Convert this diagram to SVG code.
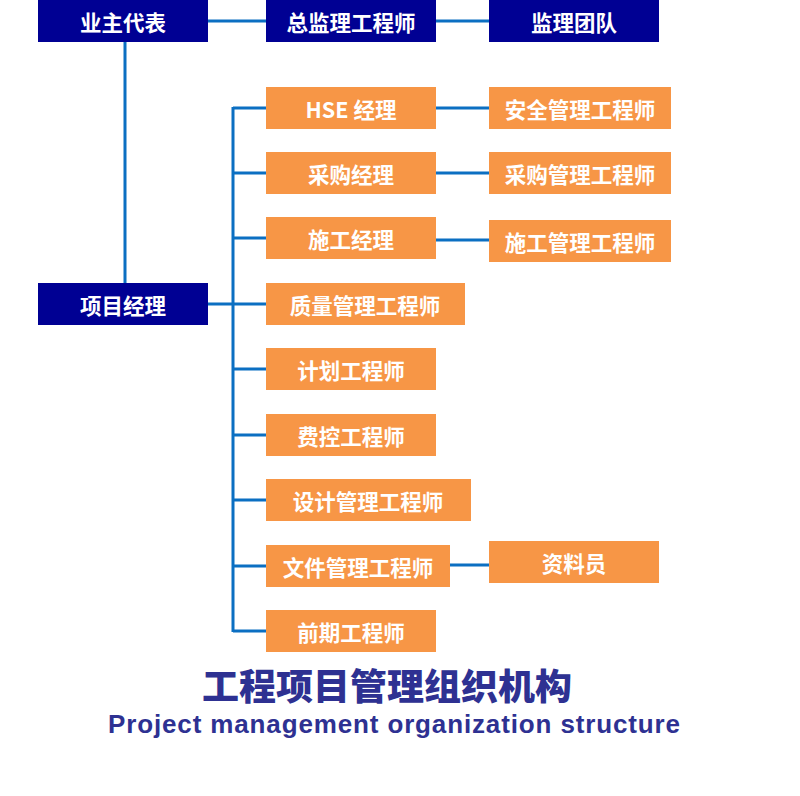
<svg xmlns="http://www.w3.org/2000/svg" width="800" height="796" viewBox="0 0 800 796">
<style>
.nv{fill:#000093}
.or{fill:#F79646}
.t{font-family:"Noto Sans CJK SC","Liberation Sans",sans-serif;font-weight:bold;font-size:21.5px;fill:#fff;text-anchor:middle;dominant-baseline:central}
.c{stroke:#0B6FC2;stroke-width:3;fill:none}
</style>
<rect width="800" height="796" fill="#fff"/>
<g id="connectors">
<path class="c" d="M208 21H266M436 21H489M125 42V283M208 304H233M233 107V632"/>
<path class="c" d="M233 108H266M233 173H266M233 238H266M233 304H266M233 369H266M233 435H266M233 500H266M233 566H266M233 631H266"/>
<path class="c" d="M436 108H489M436 173H489M436 240H489M450 565H489"/>
</g>
<g id="n1"><rect class="nv" x="38" y="0" width="170" height="42"/><text class="t" x="123" y="21">业主代表</text></g>
<g id="n2"><rect class="nv" x="266" y="0" width="170" height="42"/><text class="t" x="351" y="21">总监理工程师</text></g>
<g id="n3"><rect class="nv" x="489" y="0" width="170" height="42"/><text class="t" x="574" y="21">监理团队</text></g>
<g id="n4"><rect class="nv" x="38" y="283" width="170" height="42"/><text class="t" x="123" y="304">项目经理</text></g>
<g id="n5"><rect class="or" x="266" y="87" width="170" height="42"/><text class="t" x="351" y="108">HSE 经理</text></g>
<g id="n6"><rect class="or" x="489" y="87" width="182" height="42"/><text class="t" x="580" y="108">安全管理工程师</text></g>
<g id="n7"><rect class="or" x="266" y="152" width="170" height="42"/><text class="t" x="351" y="173">采购经理</text></g>
<g id="n8"><rect class="or" x="489" y="152" width="182" height="42"/><text class="t" x="580" y="173">采购管理工程师</text></g>
<g id="n9"><rect class="or" x="266" y="217" width="170" height="42"/><text class="t" x="351" y="238">施工经理</text></g>
<g id="n10"><rect class="or" x="489" y="220" width="182" height="42"/><text class="t" x="580" y="241">施工管理工程师</text></g>
<g id="n11"><rect class="or" x="266" y="283" width="199" height="42"/><text class="t" x="365" y="304">质量管理工程师</text></g>
<g id="n12"><rect class="or" x="266" y="348" width="170" height="42"/><text class="t" x="351" y="369">计划工程师</text></g>
<g id="n13"><rect class="or" x="266" y="414" width="170" height="42"/><text class="t" x="351" y="435">费控工程师</text></g>
<g id="n14"><rect class="or" x="266" y="479" width="205" height="42"/><text class="t" x="368" y="500">设计管理工程师</text></g>
<g id="n15"><rect class="or" x="266" y="545" width="184" height="42"/><text class="t" x="358" y="566">文件管理工程师</text></g>
<g id="n16"><rect class="or" x="489" y="541" width="170" height="42"/><text class="t" x="574" y="562">资料员</text></g>
<g id="n17"><rect class="or" x="266" y="610" width="170" height="42"/><text class="t" x="351" y="631">前期工程师</text></g>
<g id="title">
<text x="387" y="700" font-family="Noto Sans CJK SC,sans-serif" font-weight="900" font-size="36" fill="#2E3192" text-anchor="middle" textLength="370" lengthAdjust="spacingAndGlyphs">工程项目管理组织机构</text>
<text x="394" y="733" font-family="Liberation Sans,Arial,sans-serif" font-weight="bold" font-size="26" fill="#2E3192" text-anchor="middle" textLength="572" lengthAdjust="spacing">Project management organization structure</text>
</g>
</svg>
